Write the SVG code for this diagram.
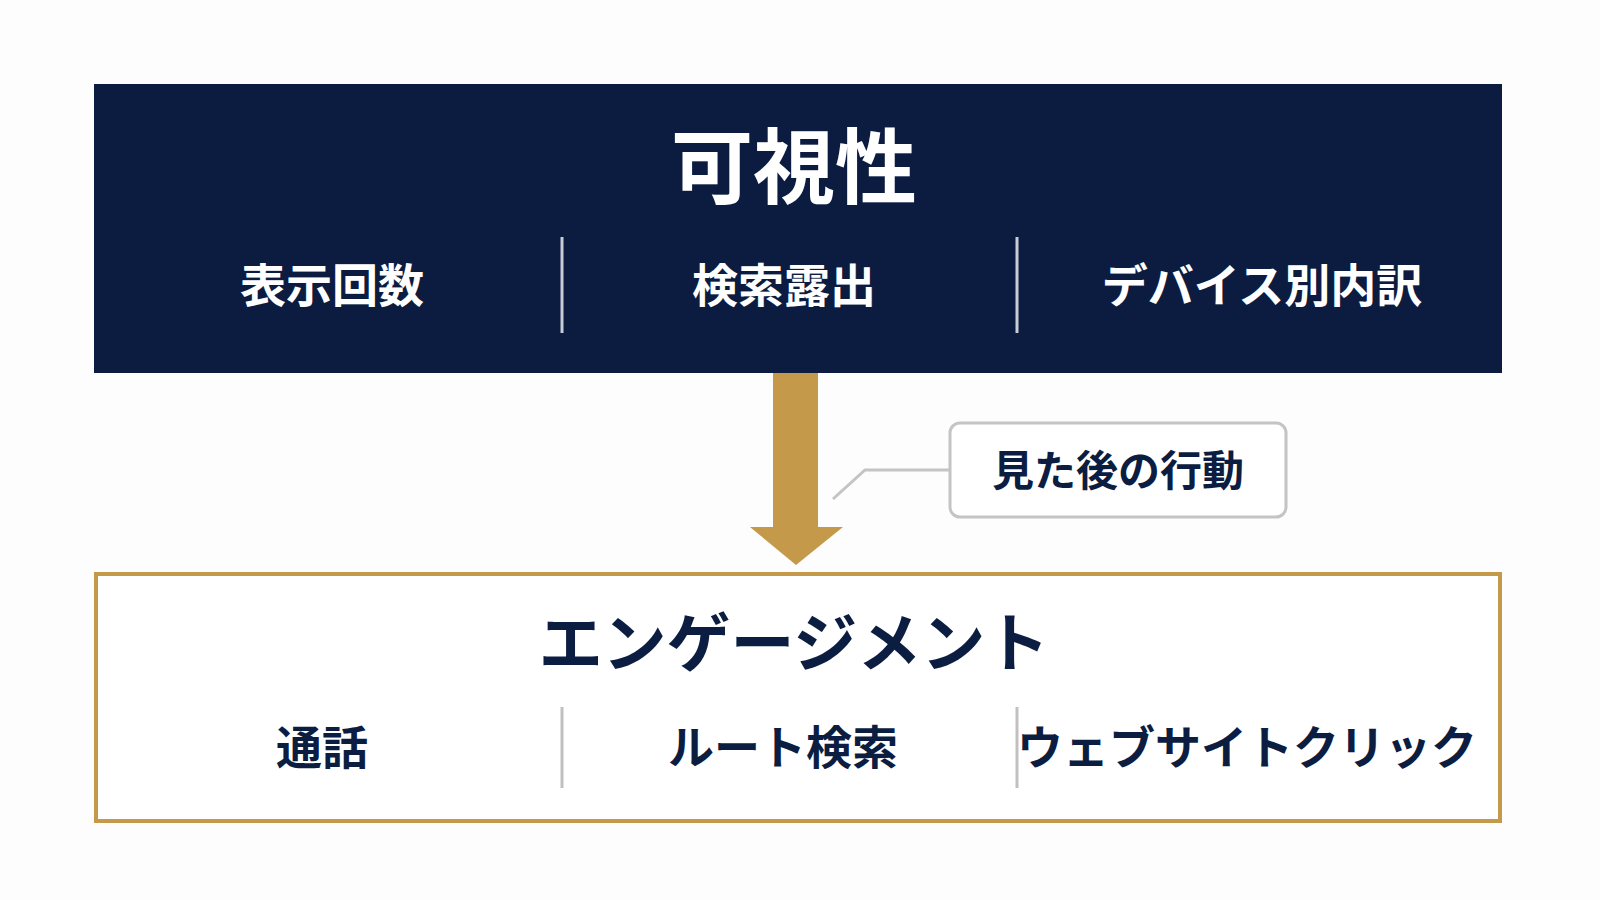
<svg xmlns="http://www.w3.org/2000/svg" width="1600" height="900" viewBox="0 0 1600 900">
<style>
text{font-family:"Noto Sans CJK JP","Noto Sans",sans-serif;font-weight:700;text-anchor:middle}
.w{fill:#ffffff}.n{fill:#0c1d42}
.sub{font-size:46px}
</style>
<rect width="1600" height="900" fill="#fdfdfd"/>
<g id="visibility">
<rect x="94" y="84" width="1408" height="289" fill="#0b1c40"/>
<text class="w" x="794" y="197" font-size="82">可視性</text>
<text class="w sub" x="332" y="302">表示回数</text>
<text class="w sub" x="784" y="302">検索露出</text>
<text class="w sub" x="1262" y="302">デバイス別内訳</text>
<line x1="562" y1="237" x2="562" y2="333" stroke="#c8ccd4" stroke-width="3"/>
<line x1="1017" y1="237" x2="1017" y2="333" stroke="#c8ccd4" stroke-width="3"/>
</g>
<g id="engagement">
<rect x="96" y="574" width="1404" height="247" fill="#ffffff" stroke="#c49a4a" stroke-width="4"/>
<text class="n" x="794" y="666" font-size="64">エンゲージメント</text>
<text class="n sub" x="322" y="764">通話</text>
<text class="n sub" x="783" y="764">ルート検索</text>
<text class="n sub" x="1247" y="764">ウェブサイトクリック</text>
<line x1="562" y1="707" x2="562" y2="788" stroke="#c0c0c0" stroke-width="3"/>
<line x1="1017" y1="707" x2="1017" y2="788" stroke="#c0c0c0" stroke-width="3"/>
</g>
<g id="connectors">
<polygon points="773,373 818,373 818,527 843,527 796,565 750,527 773,527" fill="#c49a4a"/>
<polyline points="949,470 865,470 833,499" fill="none" stroke="#c4c4c4" stroke-width="3"/>
</g>
<g id="label">
<rect x="950" y="423" width="336" height="94" rx="10" fill="#ffffff" stroke="#c4c4c4" stroke-width="3"/>
<text class="n" x="1118" y="486" font-size="42">見た後の行動</text>
</g>
</svg>
